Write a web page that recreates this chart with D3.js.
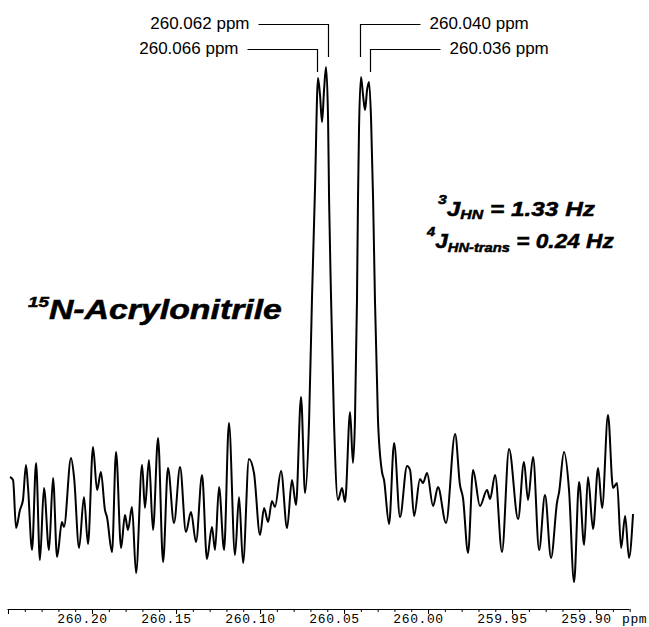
<!DOCTYPE html>
<html>
<head>
<meta charset="utf-8">
<script src="https://cdn.jsdelivr.net/npm/d3@7"></script>
<style>
  body { margin: 0; background: #fff; }
  svg { display: block; }
</style>
</head>
<body>
<div id="container"></div>
<script>
/* DATA */
// chemical shift (ppm) of each traced point, left to right
const ppm = [
  260.2488, 260.2470, 260.2452, 260.2429, 260.2411, 260.2393, 260.2381, 260.2357, 260.2333, 260.2310,
  260.2286, 260.2256, 260.2232, 260.2208, 260.2179, 260.2167, 260.2125, 260.2107, 260.2077, 260.2048,
  260.2024, 260.1994, 260.1970, 260.1947, 260.1923, 260.1911, 260.1881, 260.1857, 260.1827, 260.1804,
  260.1786, 260.1762, 260.1738, 260.1702, 260.1685, 260.1661, 260.1637, 260.1607, 260.1577, 260.1548,
  260.1512, 260.1476, 260.1441, 260.1411, 260.1381, 260.1345, 260.1316, 260.1286, 260.1268, 260.1244,
  260.1214, 260.1185, 260.1149, 260.1125, 260.1101, 260.1066, 260.1036, 260.1000, 260.0976, 260.0952,
  260.0929, 260.0911, 260.0875, 260.0839, 260.0810, 260.0786, 260.0756, 260.0732, 260.0708, 260.0691,
  260.0673, 260.0655, 260.0643, 260.0631, 260.0619, 260.0607, 260.0595, 260.0589, 260.0577, 260.0560,
  260.0536, 260.0512, 260.0494, 260.0464, 260.0447, 260.0435, 260.0423, 260.0417, 260.0411, 260.0399,
  260.0387, 260.0375, 260.0363, 260.0351, 260.0339, 260.0327, 260.0316, 260.0298, 260.0274, 260.0262,
  260.0232, 260.0202, 260.0167, 260.0125, 260.0107, 260.0083, 260.0048, 260.0030, 260.0006, 259.9970,
  259.9941, 259.9893, 259.9839, 259.9810, 259.9792, 259.9762, 259.9732, 259.9691, 259.9649, 259.9631,
  259.9601, 259.9560, 259.9518, 259.9464, 259.9429, 259.9405, 259.9375, 259.9339, 259.9304, 259.9268,
  259.9232, 259.9220, 259.9191, 259.9161, 259.9131, 259.9101, 259.9071, 259.9048, 259.9018, 259.8988,
  259.8964, 259.8929, 259.8899, 259.8875, 259.8851, 259.8827, 259.8804, 259.8780
];
// intensity (arbitrary units) at each point
const intensity = [
  38, 35, -13, 5, 15, 50, 28, -35, 52, -45,
  27, -35, 37, -42, -7, -12, 57, 38, -33, 18,
  -29, 68, 25, 43, 5, -2, -37, 63, -33, 0,
  -15, 8, -58, 50, 7, 55, -15, 77, -47, 47,
  -8, 48, -17, 3, -27, 40, -44, -12, -35, 28,
  -35, 92, -40, 18, -48, 56, 42, -20, 7, -7,
  14, 8, 44, -13, 35, 10, 118, 22, 95, 215,
  325, 437, 420, 393, 425, 448, 395, 315, 215, 95,
  15, 27, 13, 103, 52, 95, 215, 315, 385, 438,
  420, 405, 425, 433, 395, 315, 215, 95, 43, 35,
  -9, 72, -2, 49, 45, -1, 36, 32, 42, 9,
  28, -8, 81, 30, 17, -38, 45, 9, 25, 16,
  40, -37, 66, -4, 53, 15, 58, -35, 20, -43,
  13, 23, 63, 25, -67, 33, -30, 38, -14, 47,
  7, 100, 27, 32, -33, -1, -43, 1
];

const majorTicks = [260.25, 260.20, 260.15, 260.10, 260.05, 260.00, 259.95, 259.90];
const tickLabels = ["", "260.20", "260.15", "260.10", "260.05", "260.00", "259.95", "259.90"];
const axisUnit = "ppm";

// peak annotations
const peakLabels = ["260.062 ppm", "260.066 ppm", "260.040 ppm", "260.036 ppm"];
const peakPpm = [260.0607, 260.0655, 260.0399, 260.0351];

/* SIZES */
const width = 649, height = 627;
const font = "'Liberation Sans', Arial, Helvetica, sans-serif";
const mono = "'Liberation Mono', 'DejaVu Sans Mono', monospace";

const svg = d3.select("#container")
  .append("svg")
  .attr("width", width)
  .attr("height", height);

/* SCALES */
const xScale = d3.scaleLinear()
  .domain([260.2506, 259.8804])
  .range([7, 629]);

const yScale = d3.scaleLinear()
  .domain([0, 448])
  .range([515, 67]);

/* SPECTRUM */
const points = ppm.map((p, i) => [p, intensity[i]]);

const line = d3.line()
  .x(d => xScale(d[0]))
  .y(d => yScale(d[1]))
  .curve(d3.curveMonotoneX);

svg.append("path")
  .datum(points)
  .attr("d", line)
  .attr("fill", "none")
  .attr("stroke", "#000")
  .attr("stroke-width", 2)
  .attr("stroke-linejoin", "round");

/* AXIS */
const minorTicks = d3.range(0, 38).map(i => +(260.25 - i * 0.01).toFixed(2));

const minorAxis = d3.axisBottom(xScale)
  .tickValues(minorTicks)
  .tickSize(3)
  .tickSizeOuter(0)
  .tickFormat("");

const majorAxis = d3.axisBottom(xScale)
  .tickValues(majorTicks)
  .tickSize(5)
  .tickPadding(1)
  .tickFormat((d, i) => tickLabels[i]);

svg.append("g")
  .attr("transform", "translate(0,609)")
  .call(minorAxis)
  .call(g => g.selectAll("line").attr("stroke", "#000"))
  .call(g => g.select(".domain").attr("stroke", "#000"));

const gMajor = svg.append("g")
  .attr("transform", "translate(0,609)")
  .call(majorAxis);

gMajor.select(".domain").remove();
gMajor.selectAll("line").attr("stroke", "#000");
gMajor.selectAll("text")
  .attr("dx", -10)
  .attr("y", 5)
  .attr("fill", "#000")
  .style("font-family", mono)
  .style("font-size", "13px")
  .style("letter-spacing", "0.6px");

gMajor.append("text")
  .attr("x", 622)
  .attr("y", 5)
  .attr("dy", "0.71em")
  .attr("fill", "#000")
  .attr("text-anchor", "start")
  .style("font-family", mono)
  .style("font-size", "13px")
  .style("letter-spacing", "0.6px")
  .text(axisUnit);

/* PEAK LABELS */
const side = [-1, -1, 1, 1];         // -1 label on the left, 1 on the right
const rowY = [24, 49, 24, 49];
const lineEnd = [57, 72, 57, 72];
const lineLen = [70, 70, 60, 70];
const nudge = [2, -1, -1, 1];

peakLabels.forEach((lab, i) => {
  const xv = Math.round(xScale(peakPpm[i])) + nudge[i] + 0.5;
  const xh = xv + side[i] * lineLen[i];
  svg.append("path")
    .attr("d", `M${xh},${rowY[i] + 0.5}H${xv}V${lineEnd[i]}`)
    .attr("fill", "none")
    .attr("stroke", "#000")
    .attr("stroke-width", 1.2);
  svg.append("text")
    .attr("x", xh + side[i] * 9)
    .attr("y", rowY[i] + 5)
    .attr("text-anchor", side[i] < 0 ? "end" : "start")
    .style("font-family", font)
    .style("font-size", "17px")
    .text(lab);
});

/* TITLE AND COUPLING TEXT */
function stretch(text, x0, w) {
  const k = w / text.node().getComputedTextLength();
  text.attr("transform", `translate(${x0},0) scale(${k},1) translate(${-x0},0)`);
}

function richText(x0, y0, parts) {
  const t = svg.append("text")
    .attr("x", x0)
    .attr("y", y0)
    .attr("stroke", "#000")
    .attr("stroke-width", 0.5)
    .style("font-family", font)
    .style("font-weight", "bold")
    .style("font-style", "italic");
  let shift = 0;
  parts.forEach(p => {
    t.append("tspan")
      .attr("dy", p.dy - shift)
      .style("font-size", p.size + "px")
      .text(p.text);
    shift = p.dy;
  });
  return t;
}

const title = richText(28, 319, [
  { text: "15", size: 15, dy: -12 },
  { text: "N-Acrylonitrile", size: 27, dy: 0 }
]);
stretch(title, 28, 254);

const j1 = richText(438, 216, [
  { text: "3", size: 13, dy: -12 },
  { text: "J", size: 20, dy: 0 },
  { text: "HN", size: 13, dy: 3 },
  { text: " = 1.33 Hz", size: 20, dy: 0 }
]);
stretch(j1, 438, 157);

const j2 = richText(427, 248, [
  { text: "4", size: 13, dy: -12 },
  { text: "J", size: 20, dy: 0 },
  { text: "HN-trans", size: 13, dy: 4 },
  { text: " = 0.24 Hz", size: 20, dy: 0 }
]);
stretch(j2, 427, 187);
</script>
</body>
</html>
